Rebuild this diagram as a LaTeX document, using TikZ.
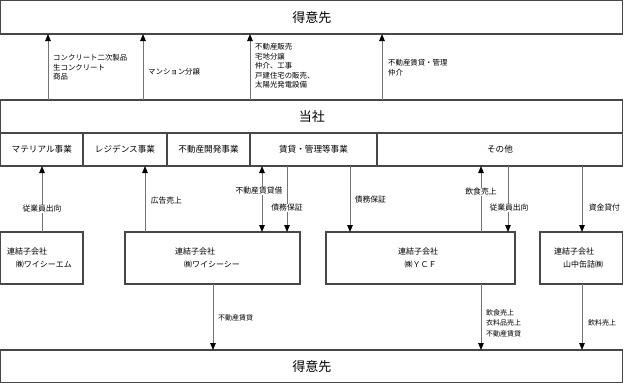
\documentclass[tikz,border=0pt]{standalone}
\usepackage{fontspec}
\setmainfont{Noto Sans CJK JP}
\usetikzlibrary{arrows.meta}
\begin{document}
\begin{tikzpicture}[x=1pt,y=-1pt,
  box/.style={draw=black!72, line width=1.1pt, rectangle, inner sep=0pt, outer sep=0pt, anchor=north west},
  bigbox/.style={box, font=\fontsize{13}{15}\selectfont},
  segbox/.style={box, font=\fontsize{8.6}{10}\selectfont},
  tipT/.tip={Triangle[width=5.5pt,length=7pt,color=black]},
  arr/.style={draw=black!55, line width=0.9pt, -tipT},
  darr/.style={draw=black!55, line width=0.9pt, tipT-tipT},
  toplab/.style={font=\fontsize{7.4}{9.6}\selectfont, inner sep=0pt, align=left},
  midlab/.style={font=\fontsize{7.8}{9.6}\selectfont, inner sep=0.6pt},
  wlab/.style={midlab, fill=white},
  botlab/.style={font=\fontsize{7}{10.5}\selectfont, inner sep=0pt, align=left},
  subtxt/.style={font=\fontsize{8}{13}\selectfont, inner sep=0pt, align=left, anchor=north west}
]
\useasboundingbox (0,0) rectangle (624,384);

% main boxes
\node[bigbox, minimum width=622.3pt, minimum height=33.4pt] (top) at (0.6,0.6) {得意先};
\node[bigbox, minimum width=622.3pt, minimum height=33pt] (tousha) at (0.6,100) {当社};
\node[segbox, minimum width=82.4pt, minimum height=33pt] (seg1) at (0.6,133) {マテリアル事業};
\node[segbox, minimum width=84pt, minimum height=33pt] (seg2) at (83,133) {レジデンス事業};
\node[segbox, minimum width=83pt, minimum height=33pt] (seg3) at (167,133) {不動産開発事業};
\node[segbox, minimum width=127pt, minimum height=33pt] (seg4) at (250,133) {賃貸・管理等事業};
\node[segbox, minimum width=245.9pt, minimum height=33pt] (seg5) at (377,133) {その他};

% subsidiaries
\node[box, minimum width=82.4pt, minimum height=52pt] (ycm) at (0.6,232) {};
\node[box, minimum width=175pt, minimum height=52pt] (ycc) at (125,232) {};
\node[box, minimum width=189pt, minimum height=52pt] (ycf) at (326,232) {};
\node[box, minimum width=82.9pt, minimum height=52pt] (yam) at (540,232) {};
\node[subtxt] (ycmt) at (7,247.5) {連結子会社\\\hspace*{1.1em}㈱ワイシーエム};
\node[subtxt] (ycct) at (175,247.5) {連結子会社\\\hspace*{1.1em}㈱ワイシーシー};
\node[subtxt] (ycft) at (398,247.5) {連結子会社\\\hspace*{0.8em}㈱ＹＣＦ};
\node[subtxt] (yamt) at (554,247.5) {連結子会社\\\hspace*{1.1em}山中缶詰㈱};

\node[bigbox, minimum width=622.3pt, minimum height=32.8pt] (bot) at (0.6,350) {得意先};

% arrows to top customers
\draw[arr] (tousha.north -| 48,0) -- (top.south -| 48,0);
\draw[arr] (tousha.north -| 143,0) -- (top.south -| 143,0);
\draw[arr] (tousha.north -| 250,0) -- (top.south -| 250,0);
\draw[arr] (tousha.north -| 382,0) -- (top.south -| 382,0);
\node[toplab, anchor=north west] (l1) at (53,54) {コンクリート二次製品\\生コンクリート\\商品};
\node[toplab, anchor=west] (l2) at (148,72) {マンション分譲};
\node[toplab, anchor=north west] (l3) at (255,43) {不動産販売\\宅地分譲\\仲介、工事\\戸建住宅の販売、\\太陽光発電設備};
\node[toplab, anchor=north west] (l4) at (388,59) {不動産賃貸・管理\\仲介};

% middle arrows
\draw[arr] (ycm.north -| 42,0) -- (seg1.south -| 42,0);
\draw[arr] (ycc.north -| 145,0) -- (seg2.south -| 145,0);
\draw[darr] (seg4.south -| 262,0) -- (ycc.north -| 262,0);
\draw[arr] (seg4.south -| 287,0) -- (ycc.north -| 287,0);
\draw[arr] (seg4.south -| 350,0) -- (ycf.north -| 350,0);
\draw[arr] (ycf.north -| 481,0) -- (seg5.south -| 481,0);
\draw[arr] (seg5.south -| 508,0) -- (ycf.north -| 508,0);
\draw[arr] (seg5.south -| 582,0) -- (yam.north -| 582,0);

\node[wlab] (m1) at (42,209) {従業員出向};
\node[midlab, anchor=west] (m2) at (150,201) {広告売上};
\node[wlab] (m3) at (259,191) {不動産賃貸借};
\node[wlab] (m4) at (287,208) {債務保証};
\node[midlab, anchor=west] (m5) at (354,200) {債務保証};
\node[wlab] (m6) at (481,192) {飲食売上};
\node[wlab] (m7) at (509,208) {従業員出向};
\node[midlab, anchor=west] (m8) at (588,208) {資金貸付};

% bottom arrows
\draw[arr] (ycc.south -| 213,0) -- (bot.north -| 213,0);
\draw[arr] (ycf.south -| 481,0) -- (bot.north -| 481,0);
\draw[arr] (yam.south -| 582,0) -- (bot.north -| 582,0);
\node[botlab, anchor=west] (b1) at (218,318) {不動産賃貸};
\node[botlab, anchor=north west] (b2) at (486,309) {飲食売上\\衣料品売上\\不動産賃貸};
\node[botlab, anchor=west] (b3) at (588,323) {飲料売上};
\end{tikzpicture}
\end{document}
